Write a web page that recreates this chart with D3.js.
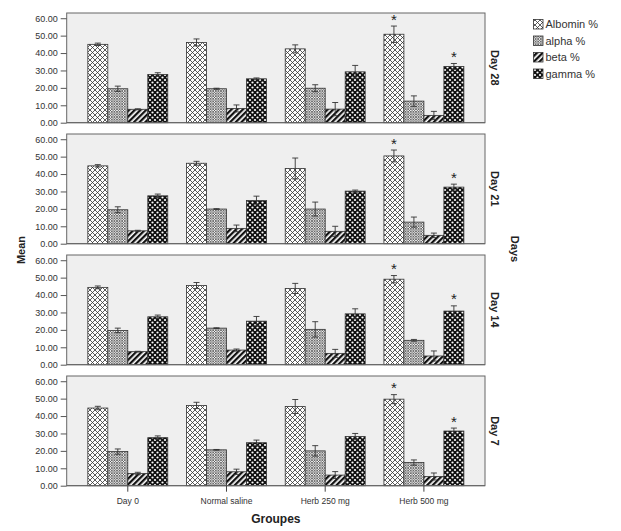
<!DOCTYPE html>
<html><head><meta charset="utf-8">
<script src="https://cdn.jsdelivr.net/npm/d3@7"></script>
<style>
body{margin:0;background:#fff;}
svg text{font-family:"Liberation Sans",Arial,sans-serif;}
</style></head>
<body>
<svg id="c" width="621" height="531"></svg>
<script>
const days = ["Day 28","Day 21","Day 14","Day 7"];
const groups = ["Day 0","Normal saline","Herb 250 mg","Herb 500 mg"];
const series = ["Albomin %","alpha %","beta %","gamma %"];
const yTicks = [0,10,20,30,40,50,60];

// values[day][series] over groups
const albumin = [[45.0,46.1,42.4,50.8],[44.7,46.2,43.2,50.4],[44.4,45.5,43.8,49.1],[44.6,46.1,45.5,49.7]];
const alpha   = [[19.5,19.5,19.8,12.4],[19.5,19.9,19.9,12.4],[19.7,21.0,20.3,14.0],[19.6,20.6,20.0,13.3]];
const beta    = [[7.7,8.2,7.8,4.2],[7.4,8.8,7.1,4.8],[7.5,8.4,6.5,5.0],[7.0,8.0,6.1,5.3]];
const gamma   = [[27.7,25.2,29.2,32.3],[27.5,24.8,30.2,32.5],[27.5,25.0,29.2,30.8],[27.6,24.7,28.2,31.4]];

const albuminErr = [[0.7,2.0,2.3,4.7],[0.7,1.1,6.0,3.4],[0.8,1.7,2.9,2.1],[1.0,1.8,4.0,2.6]];
const alphaErr   = [[1.5,0.3,2.0,3.0],[1.7,0.2,4.0,2.9],[1.3,0.2,4.4,0.5],[1.5,0.2,3.0,1.5]];
const betaErr    = [[0.3,2.0,3.8,2.3],[0.3,1.9,2.9,1.3],[0.2,0.6,2.3,2.9],[0.7,1.5,2.0,2.0]];
const gammaErr   = [[1.0,0.5,3.7,1.7],[1.0,2.5,0.6,1.7],[1.0,2.7,2.9,3.0],[1.0,1.5,1.8,1.7]];

// significance marks: [series index, group index]
const stars = [[0,3],[3,3]];

const allVals = [albumin, alpha, beta, gamma];
const allErr = [albuminErr, alphaErr, betaErr, gammaErr];

const svg = d3.select("#c");
const defs = svg.append("defs");

// patterns
const pAlb = defs.append("pattern").attr("id","p0").attr("patternUnits","userSpaceOnUse").attr("width",5).attr("height",5);
pAlb.append("rect").attr("width",5).attr("height",5).attr("fill","#fff");
pAlb.append("path").attr("d","M0,0L5,5M5,0L0,5M-1,4L1,6M4,-1L6,1M-1,1L1,-1M4,6L6,4").attr("stroke","#333").attr("stroke-width",0.8);

const pAl = defs.append("pattern").attr("id","p1").attr("patternUnits","userSpaceOnUse").attr("width",2.6).attr("height",2.6);
pAl.append("rect").attr("width",2.6).attr("height",2.6).attr("fill","#f0f0f0");
pAl.append("path").attr("d","M0,0L2.6,2.6M2.6,0L0,2.6").attr("stroke","#555").attr("stroke-width",0.75);

const pBe = defs.append("pattern").attr("id","p2").attr("patternUnits","userSpaceOnUse").attr("width",4).attr("height",4).attr("patternTransform","rotate(45)");
pBe.append("rect").attr("width",4).attr("height",4).attr("fill","#fff");
pBe.append("rect").attr("width",2.3).attr("height",4).attr("fill","#111");

const pGa = defs.append("pattern").attr("id","p3").attr("patternUnits","userSpaceOnUse").attr("width",5).attr("height",5);
pGa.append("rect").attr("width",5).attr("height",5).attr("fill","#111");
[[0,0],[5,0],[0,5],[5,5],[2.5,2.5]].forEach(([cx,cy])=>pGa.append("circle").attr("cx",cx).attr("cy",cy).attr("r",1.1).attr("fill","#fff"));

const fills = ["url(#p0)","url(#p1)","url(#p2)","url(#p3)"];

const left = 66.7, right = 485;
const panelTop0 = 13, pitch = 121, panelH = 109.7;

const x0 = d3.scaleBand().domain(groups).range([left,right]).paddingInner(0.19).paddingOuter(0.214);
const x1 = d3.scaleBand().domain(series).range([0,x0.bandwidth()]);

days.forEach((day, di) => {
  const top = panelTop0 + di*pitch, bottom = top + panelH;
  const y = d3.scaleLinear().domain([0,63]).range([bottom, top]);
  const g = svg.append("g");
  g.append("rect").attr("x",left).attr("y",top).attr("width",right-left).attr("height",panelH)
    .attr("fill","#efefef").attr("stroke","#666").attr("stroke-width",1);

  const ax = g.append("g").attr("transform",`translate(${left},0)`)
    .call(d3.axisLeft(y).tickValues(yTicks).tickFormat(d3.format(".2f")).tickSize(6).tickPadding(3));
  ax.select(".domain").remove();
  ax.selectAll("line").attr("stroke","#555");
  ax.selectAll("text").attr("font-size","9px").attr("fill","#333");

  series.forEach((s, si) => {
    groups.forEach((gr, gi) => {
      const v = allVals[si][di][gi], e = allErr[si][di][gi];
      const bx = x0(gr) + x1(s);
      g.append("rect").attr("x",bx).attr("y",y(v)).attr("width",x1.bandwidth()).attr("height",y(0)-y(v))
        .attr("fill",fills[si]).attr("stroke","#333").attr("stroke-width",0.8);
      const cx = bx + x1.bandwidth()/2;
      if (e > 0) {
        g.append("path").attr("d",`M${cx},${y(v+e)}V${y(v-e)}M${cx-3},${y(v+e)}H${cx+3}M${cx-3},${y(v-e)}H${cx+3}`)
          .attr("stroke","#333").attr("stroke-width",0.9).attr("fill","none");
      }
    });
  });
  stars.forEach(([si, gi]) => {
    const v = allVals[si][di][gi], e = allErr[si][di][gi];
    const cx = x0(groups[gi]) + x1(series[si]) + x1.bandwidth()/2;
    g.append("text").attr("x",cx).attr("y",y(v+e)-1.5).attr("text-anchor","middle")
      .attr("font-size","15px").attr("fill","#222").text("*");
  });

  // bottom axis line
  g.append("line").attr("x1",left).attr("x2",right).attr("y1",bottom).attr("y2",bottom).attr("stroke","#666");

  g.append("text").attr("transform",`translate(491,${(top+bottom)/2}) rotate(90)`)
    .attr("text-anchor","middle").attr("font-size","11px").attr("font-weight","bold").attr("fill","#222").text(day);

  if (di === days.length-1) {
    const xa = g.append("g").attr("transform",`translate(0,${bottom})`)
      .call(d3.axisBottom(x0).tickSize(6).tickPadding(6));
    xa.select(".domain").remove();
    xa.selectAll("line").attr("stroke","#444");
    xa.selectAll("text").attr("font-size","8.5px").attr("fill","#333");
  }
});

svg.append("text").attr("transform","translate(25,250) rotate(-90)").attr("text-anchor","middle")
  .attr("font-size","11px").attr("font-weight","bold").attr("fill","#222").text("Mean");
svg.append("text").attr("transform","translate(511,249) rotate(90)").attr("text-anchor","middle")
  .attr("font-size","11px").attr("font-weight","bold").attr("fill","#222").text("Days");
svg.append("text").attr("x",(left+right)/2).attr("y",523).attr("text-anchor","middle")
  .attr("font-size","12px").attr("font-weight","bold").attr("fill","#222").text("Groupes");

const lg = svg.append("g");
series.forEach((s, i) => {
  const cy = 24 + i*16.5;
  lg.append("rect").attr("x",533.5).attr("y",cy-4.5).attr("width",9.5).attr("height",9.5)
    .attr("fill",fills[i]).attr("stroke","#333").attr("stroke-width",0.8);
  lg.append("text").attr("x",545.5).attr("y",cy+4).attr("font-size","11px").attr("fill","#333").text(s);
});
</script>
</body></html>
